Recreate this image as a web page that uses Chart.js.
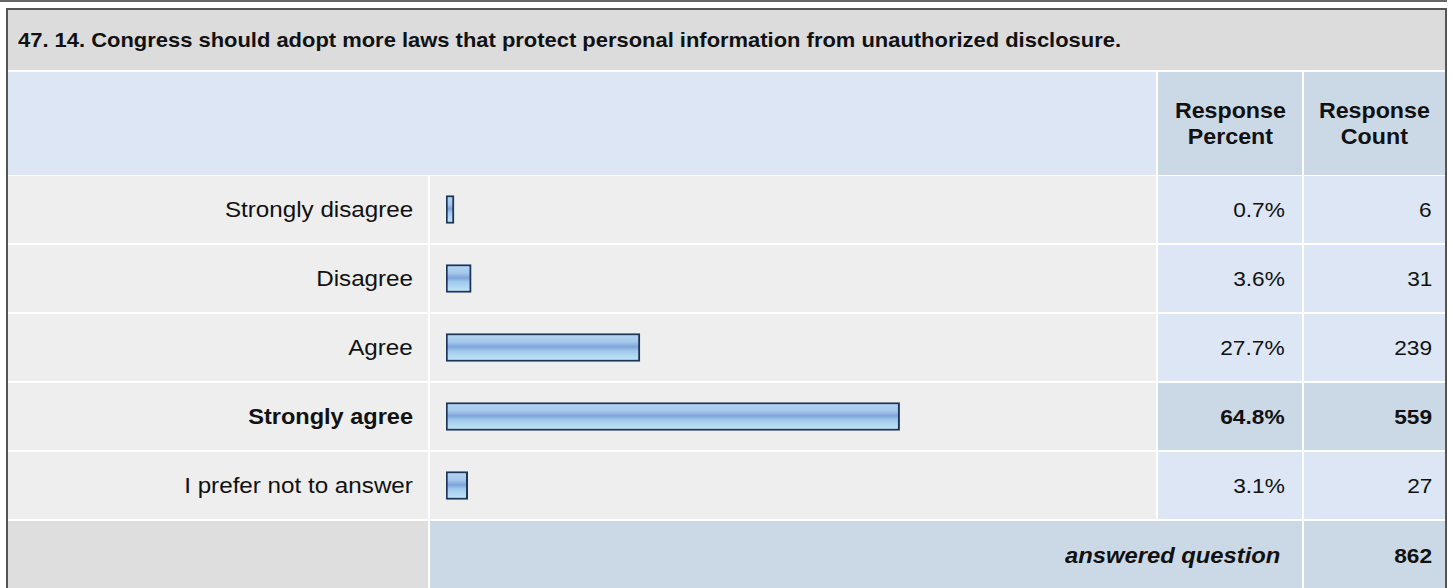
<!DOCTYPE html>
<html>
<head>
<meta charset="utf-8">
<script src="https://cdn.jsdelivr.net/npm/chart.js@4.4.1/dist/chart.umd.min.js"></script>
<style>
  body { margin: 0; background: #fff; font-family: "Liberation Sans", Arial, sans-serif; color: #111; }
  #page { position: relative; width: 1453px; height: 588px; overflow: hidden; background: #fff; }
  .topline { position: absolute; left: 0; top: 0; width: 1447px; height: 2px; background: #666; }
  .box { position: absolute; left: 6px; top: 8px; width: 1437px; height: 600px; border: 2px solid #555; border-bottom: none; background: #fff; }
  .cell { position: absolute; box-sizing: border-box; display: flex; align-items: center; }
  .txt { display: inline-block; white-space: nowrap; transform: scaleX(1.08); }
  .right { justify-content: flex-end; }
  .right .txt { transform-origin: right center; }
  .left .txt { transform-origin: left center; }
  .center { justify-content: center; text-align: center; }
  #chartBox { position: absolute; left: 430px; top: 175px; width: 726px; height: 345px; }
</style>
</head>
<body>
<div id="page">
  <div class="topline"></div>
  <div class="box"></div>
  <div id="chartBox"><canvas id="barChart" width="726" height="345"></canvas></div>
</div>
<script>
const questionTitle = '47. 14. Congress should adopt more laws that protect personal information from unauthorized disclosure.'
const answerLabels = ['Strongly disagree', 'Disagree', 'Agree', 'Strongly agree', 'I prefer not to answer']
const responsePercent = [0.7, 3.6, 27.7, 64.8, 3.1]
const responseCount = [6, 31, 239, 559, 27]
const answeredTotal = 862
const colHeaders = [['Response', 'Percent'], ['Response', 'Count']]

const page = document.getElementById('page')

function addCell(x, y, w, h, bg, cls, html, style, sx) {
  const d = document.createElement('div')
  d.className = 'cell ' + (cls || '')
  d.style.left = x + 'px'
  d.style.top = y + 'px'
  d.style.width = w + 'px'
  d.style.height = h + 'px'
  d.style.background = bg
  if (style) Object.assign(d.style, style)
  if (html !== undefined) {
    d.innerHTML = '<span class="txt">' + html + '</span>'
    if (sx) d.firstChild.style.transform = 'scaleX(' + sx + ')'
  }
  page.insertBefore(d, document.getElementById('chartBox'))
  return d
}

const grayBg = '#dcdcdc'
const rowBg = '#eeeeee'
const lightBlue = '#dce6f4'
const darkBlue = '#cbd8e6'

// title + header
addCell(8, 10, 1437, 60, grayBg, 'left', questionTitle, { paddingLeft: '10px', fontWeight: 'bold', fontSize: '20.5px' }, 1.07)
addCell(8, 72, 1148, 103, lightBlue, '')
addCell(1158, 72, 144, 103, darkBlue, 'center', colHeaders[0].join('<br>'), { fontWeight: 'bold', fontSize: '21.5px', lineHeight: '26px' })
addCell(1304, 72, 141, 103, darkBlue, 'center', colHeaders[1].join('<br>'), { fontWeight: 'bold', fontSize: '21.5px', lineHeight: '26px' })
document.querySelectorAll('.center .txt').forEach(s => { s.style.transformOrigin = 'center center' })

// rows: the largest count is shown highlighted
const topIdx = responseCount.indexOf(Math.max(...responseCount))
answerLabels.forEach((lab, i) => {
  const y = 176 + i * 69
  const hi = i === topIdx
  const weight = hi ? 'bold' : 'normal'
  addCell(8, y, 420, 67, rowBg, 'right', lab, { paddingRight: '15px', fontSize: '22px', fontWeight: weight }, hi ? 1.07 : 1.1)
  addCell(430, y, 726, 67, rowBg, '')
  addCell(1158, y, 144, 67, hi ? darkBlue : lightBlue, 'right', responsePercent[i].toFixed(1) + '%', { paddingRight: '17px', fontSize: '21px', fontWeight: weight })
  addCell(1304, y, 141, 67, hi ? darkBlue : lightBlue, 'right', String(responseCount[i]), { paddingRight: '13px', fontSize: '21px', fontWeight: weight })
})

// footer
addCell(8, 521, 420, 70, '#dedede', '')
addCell(430, 521, 872, 70, darkBlue, 'right', 'answered question', { paddingRight: '22px', fontSize: '22px', fontWeight: 'bold', fontStyle: 'italic' })
addCell(1304, 521, 141, 70, darkBlue, 'right', String(answeredTotal), { paddingRight: '13px', fontSize: '21px', fontWeight: 'bold' })

// glossy bar fill, one gradient per bar
function barGradient(c) {
  const chart = c.chart
  const yScale = chart.scales.y
  if (!yScale || c.dataIndex === undefined) return '#9cc2e8'
  const mid = yScale.getPixelForValue(c.dataIndex)
  if (!isFinite(mid)) return '#9cc2e8'
  const g = chart.ctx.createLinearGradient(0, mid - 14, 0, mid + 14)
  g.addColorStop(0, '#b7d6f1')
  g.addColorStop(0.3, '#a5c8ec')
  g.addColorStop(0.48, '#7ea4d9')
  g.addColorStop(0.62, '#a0c9ed')
  g.addColorStop(1, '#c4e9f7')
  return g
}

new Chart(document.getElementById('barChart'), {
  type: 'bar',
  data: {
    labels: answerLabels,
    datasets: [{
      data: responsePercent,
      backgroundColor: barGradient,
      borderColor: '#1c3558',
      borderWidth: 2,
      borderSkipped: false,
      barThickness: 28,
      minBarLength: 8,
    }],
  },
  options: {
    indexAxis: 'y',
    responsive: false,
    animation: false,
    events: [],
    layout: { padding: { left: 16, right: 10, top: 0, bottom: 0 } },
    plugins: { legend: { display: false }, tooltip: { enabled: false } },
    scales: {
      x: { display: false, min: 0, max: 100 },
      y: { display: false },
    },
  },
})
</script>
</body>
</html>
